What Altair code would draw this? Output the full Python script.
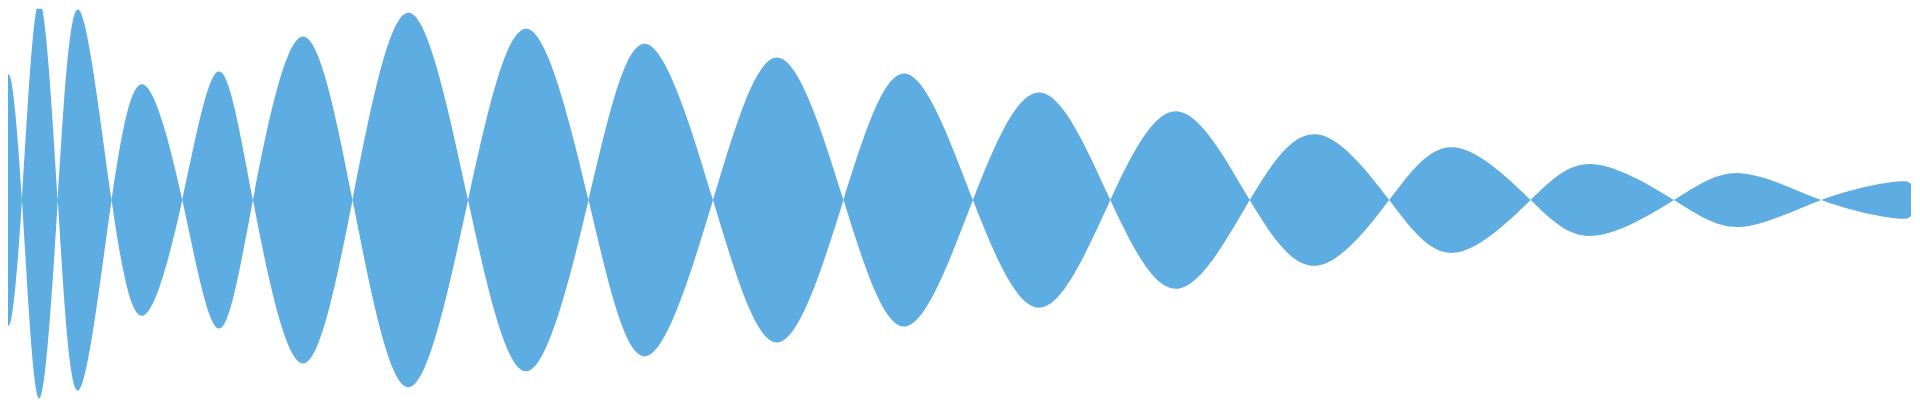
import altair as alt
import pandas as pd

# sample position (t) and signed amplitude of the waveform at its zero
# crossings and at the peak of every lobe
t = [0, 9, 22, 39, 58, 79, 112, 144, 183, 219, 254, 303, 354, 410, 470, 529,
     591, 648, 716, 781, 847, 909, 977, 1045, 1115, 1183, 1255, 1322, 1395,
     1460, 1537, 1600, 1681, 1748, 1829, 1900, 1919]
amp = [0.26, 0.63, 0.0, -0.995, 0.0, 0.955, 0.0, -0.58, 0.0, 0.645, 0.0, -0.82,
       0.0, 0.94, 0.0, -0.86, 0.0, 0.785, 0.0, -0.715, 0.0, 0.635, 0.0, -0.54,
       0.0, 0.445, 0.0, -0.33, 0.0, 0.265, 0.0, -0.18, 0.0, 0.135, 0.0, -0.09,
       -0.08]

df = pd.DataFrame({"t": t, "amp": amp})
df["neg"] = -df["amp"]

chart = (
    alt.Chart(df)
    .mark_area(interpolate="natural", color="#5DADE2", opacity=1, clip=True)
    .encode(
        x=alt.X("t:Q", axis=None, scale=alt.Scale(domain=[8, 1920], nice=False, zero=False)),
        y=alt.Y("amp:Q", axis=None, scale=alt.Scale(domain=[-1.0, 0.96], nice=False, zero=False)),
        y2="neg:Q",
    )
    .properties(width=1912, height=392, padding=0, autosize=alt.AutoSizeParams(type="none"))
    .configure_view(stroke=None)
)

chart.save("out.html", embed_options={"renderer": "svg", "actions": False})
